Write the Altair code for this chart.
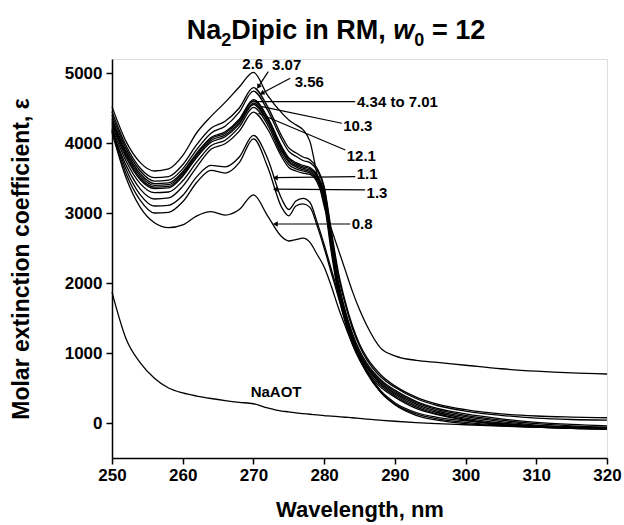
import altair as alt
import pandas as pd

# ---------------- data ----------------
wavelength = [250, 252, 254, 256, 258, 260, 262, 264, 266, 268, 270, 272, 274, 275, 276, 277,
              278, 279, 280, 281, 282, 283, 284, 285, 286, 288, 290, 293, 296, 300, 305, 310, 315, 320]

s_2_6 = [4520, 4020, 3720, 3600, 3630, 3820, 4150, 4380, 4580, 4800, 5010, 4680, 4430, 4330, 4260, 4190,
         4020, 3550, 3100, 2780, 2480, 2180, 1880, 1620, 1400, 1070, 960, 895, 865, 825, 775, 740, 715, 700]
s_3_07 = [4450, 3960, 3640, 3505, 3520, 3690, 3980, 4210, 4310, 4500, 4790, 4520, 4100, 3930, 3860, 3800,
          3760, 3640, 3380, 2760, 2160, 1730, 1390, 1130, 940, 690, 530, 370, 270, 190, 130, 100, 85, 75]
s_3_56 = [4400, 3920, 3600, 3455, 3470, 3630, 3910, 4140, 4240, 4440, 4740, 4470, 4050, 3880, 3810, 3750,
          3720, 3610, 3350, 2710, 2110, 1690, 1350, 1100, 910, 660, 510, 350, 250, 170, 110, 70, 50, 40]
s_4_34 = [4350, 3880, 3560, 3420, 3430, 3590, 3860, 4080, 4160, 4340, 4620, 4370, 3950, 3790, 3720, 3680,
          3650, 3550, 3300, 2650, 2030, 1600, 1280, 1040, 860, 620, 470, 310, 210, 130, 60, 10, -20, -40]
s_mid_b = [4320, 3850, 3530, 3395, 3405, 3570, 3840, 4060, 4140, 4320, 4600, 4350, 3930, 3770, 3700, 3660,
           3630, 3530, 3270, 2600, 1990, 1570, 1250, 1010, 830, 600, 450, 290, 190, 110, 40, -10, -40, -60]
s_mid_c = [4290, 3820, 3500, 3370, 3380, 3545, 3815, 4035, 4115, 4295, 4570, 4320, 3900, 3745, 3680, 3640,
           3610, 3510, 3250, 2570, 1960, 1540, 1220, 990, 810, 580, 430, 270, 170, 90, 20, -30, -55, -70]
s_7_01 = [4260, 3790, 3475, 3350, 3360, 3525, 3795, 4010, 4090, 4270, 4550, 4300, 3880, 3725, 3660, 3620,
          3590, 3490, 3230, 2540, 1930, 1510, 1200, 970, 790, 560, 410, 250, 150, 70, 0, -45, -70, -80]
s_10_3 = [4220, 3740, 3420, 3290, 3300, 3460, 3730, 3960, 4040, 4230, 4510, 4260, 3840, 3690, 3630, 3600,
          3570, 3470, 3200, 2500, 1890, 1470, 1160, 940, 760, 540, 390, 230, 130, 50, -20, -55, -75, -85]
s_12_1 = [4180, 3680, 3340, 3200, 3215, 3380, 3660, 3910, 3990, 4170, 4440, 4200, 3800, 3650, 3600, 3570,
          3550, 3440, 3150, 2450, 1840, 1430, 1120, 900, 730, 510, 370, 210, 120, 40, -25, -60, -75, -88]
s_1_1 = [4200, 3620, 3260, 3100, 3110, 3250, 3520, 3680, 3660, 3800, 4110, 3780, 3200, 3050, 3170, 3210,
         3150, 2870, 2550, 2200, 1850, 1500, 1200, 950, 750, 460, 290, 150, 80, 30, -10, -40, -55, -65]
s_1_3 = [4170, 3560, 3180, 3000, 3010, 3160, 3440, 3610, 3570, 3720, 4060, 3660, 3080, 2960, 3100, 3130,
         3080, 2820, 2500, 2150, 1800, 1460, 1170, 920, 720, 440, 270, 130, 60, 10, -30, -55, -70, -80]
s_0_8 = [4150, 3500, 3080, 2860, 2790, 2830, 2960, 3020, 2970, 3050, 3260, 2960, 2660, 2600, 2620, 2640,
         2580, 2410, 2230, 1960, 1650, 1380, 1130, 920, 740, 440, 260, 110, 40, -10, -40, -55, -65, -72]
s_naaot = [1870, 1200, 860, 640, 500, 430, 385, 350, 320, 295, 275, 215, 170, 160, 145, 135,
           125, 115, 105, 98, 90, 82, 75, 65, 55, 40, 25, 5, -10, -25, -45, -60, -75, -88]

series_names = ["2.6", "3.07", "3.56", "4.34", "4.34-7.01 b", "4.34-7.01 c", "7.01",
                "10.3", "12.1", "1.1", "1.3", "0.8", "NaAOT"]
series_values = [s_2_6, s_3_07, s_3_56, s_4_34, s_mid_b, s_mid_c, s_7_01,
                 s_10_3, s_12_1, s_1_1, s_1_3, s_0_8, s_naaot]

# annotation labels
label_text = ["2.6", "3.07", "3.56", "4.34 to 7.01", "10.3", "12.1", "1.1", "1.3", "0.8", "NaAOT"]
label_x = [269.9, 274.7, 277.9, 284.65, 282.7, 283.2, 284.6, 286.0, 283.9, 273.2]
label_y = [5129, 5114, 4876, 4590, 4243, 3814, 3557, 3281, 2843, 447]
label_align = ["center", "center", "center", "left", "left", "left", "left", "left", "left", "center"]

# leader lines (label side -> curve side)
lead_name = ["3.07", "3.56", "4.34 to 7.01", "10.3", "12.1", "1.1", "1.3", "0.8"]
lead_x1 = [272.1, 275.2, 284.4, 282.5, 283.0, 284.4, 285.8, 283.7]
lead_y1 = [5020, 4925, 4590, 4282, 3900, 3520, 3330, 2843]
lead_x2 = [270.7, 271.2, 269.5, 271.2, 270.7, 273.1, 273.1, 273.1]
lead_y2 = [4805, 4710, 4590, 4520, 4425, 3505, 3340, 2843]

# arrow heads
head_x = [270.7, 271.2, 273.1, 273.1, 273.1]
head_y = [4805, 4710, 3505, 3340, 2843]
head_angle = [213, 242, 270, 270, 270]

# title pieces: text, role (a leading space is kept as an explicit gap)
title_parts = ["Na", "2", "Dipic in RM,", "w", "0", "= 12"]
title_roles = ["main", "sub", "main", "ital", "sub", "main"]
title_gap_before = [0, 0, 0, 1, 0, 1]

# ---------------- tables ----------------
rows = []
for name, vals in zip(series_names, series_values):
    for w, v in zip(wavelength, vals):
        rows.append({"series": name, "wl": w, "eps": v})
spectra = pd.DataFrame(rows)

labels = pd.DataFrame({"text": label_text, "x": label_x, "y": label_y, "align": label_align})
leads = pd.DataFrame({"name": lead_name, "x": lead_x1, "y": lead_y1, "x2": lead_x2, "y2": lead_y2})
heads = pd.DataFrame({"x": head_x, "y": head_y, "angle": head_angle})

FONT = "Liberation Sans"
PLOT_LEFT, PLOT_TOP = 112, 59

xscale = alt.Scale(domain=[250, 320], nice=False, zero=False)
yscale = alt.Scale(domain=[-500, 5200], nice=False, zero=False)

x_axis = alt.Axis(values=[250, 260, 270, 280, 290, 300, 310, 320], title="Wavelength, nm",
                  grid=False, domain=True, domainColor="black", domainWidth=1.5, labelFlush=False,
                  tickColor="black", tickSize=6, tickWidth=1.5, format="d",
                  labelFont=FONT, labelFontWeight="bold", labelFontSize=17, labelColor="black",
                  labelPadding=3, titleFont=FONT, titleFontWeight="bold", titleFontSize=22,
                  titleColor="black", titlePadding=16)
y_axis = alt.Axis(values=[0, 1000, 2000, 3000, 4000, 5000], title="Molar extinction coefficient, ε",
                  grid=False, domain=True, domainColor="black", domainWidth=1.5, labelFlush=False,
                  tickColor="black", tickSize=6, tickWidth=1.5, format="d",
                  labelFont=FONT, labelFontWeight="bold", labelFontSize=17, labelColor="black",
                  labelPadding=4, titleFont=FONT, titleFontWeight="bold", titleFontSize=23,
                  titleColor="black", titlePadding=31)

lines = alt.Chart(spectra).mark_line(color="black", strokeWidth=1.3, interpolate="monotone").encode(
    x=alt.X("wl:Q", scale=xscale, axis=x_axis),
    y=alt.Y("eps:Q", scale=yscale, axis=y_axis),
    detail="series:N",
)

lead_layer = alt.Chart(leads).mark_rule(color="black", strokeWidth=1.2).encode(
    x=alt.X("x:Q", scale=xscale), y=alt.Y("y:Q", scale=yscale),
    x2="x2:Q", y2="y2:Q",
)

head_layer = alt.Chart(heads).mark_point(shape="triangle-up", filled=True, color="black",
                                         size=30, opacity=1).encode(
    x=alt.X("x:Q", scale=xscale), y=alt.Y("y:Q", scale=yscale),
    angle=alt.Angle("angle:Q", scale=None),
)

text_center = alt.Chart(labels[labels["align"] == "center"]).mark_text(
    align="center", baseline="middle", font=FONT, fontWeight="bold", fontSize=15, color="black"
).encode(x=alt.X("x:Q", scale=xscale), y=alt.Y("y:Q", scale=yscale), text="text:N")

text_left = alt.Chart(labels[labels["align"] == "left"]).mark_text(
    align="left", baseline="middle", font=FONT, fontWeight="bold", fontSize=15, color="black"
).encode(x=alt.X("x:Q", scale=xscale), y=alt.Y("y:Q", scale=yscale), text="text:N")

# ---- title built from pieces (subscripts, italic w) ----
ADV = {'N': 722, 'a': 556, 'D': 722, 'i': 278, 'p': 611, 'c': 556, ' ': 278,
       'n': 611, 'R': 722, 'M': 833, ',': 278, 'w': 778, '=': 584, '1': 556, '2': 556, '0': 556}
MAIN_FS, SUB_FS = 27, 18
TITLE_CENTER, TITLE_BASE, SUB_DROP = 336, 39, 7
SPACE = ADV[' '] / 1000 * MAIN_FS
sizes = [SUB_FS if r == "sub" else MAIN_FS for r in title_roles]
widths = [sum(ADV[c] for c in t) / 1000 * fs for t, fs in zip(title_parts, sizes)]
total = sum(widths) + SPACE * sum(title_gap_before)
cursor = TITLE_CENTER - total / 2
title_layers = []
for t, role, fs, wdt, gap in zip(title_parts, title_roles, sizes, widths, title_gap_before):
    cursor += gap * SPACE
    base = TITLE_BASE + (SUB_DROP if role == "sub" else 0)
    title_layers.append(
        alt.Chart(pd.DataFrame({"t": [t]})).mark_text(
            align="left", baseline="alphabetic", font=FONT, fontWeight="bold",
            fontStyle="italic" if role == "ital" else "normal", fontSize=fs, color="black",
        ).encode(text="t:N", x=alt.value(cursor - PLOT_LEFT), y=alt.value(base - PLOT_TOP))
    )
    cursor += wdt

chart = alt.layer(lines, lead_layer, head_layer, text_center, text_left, *title_layers).properties(
    width=495, height=399,
    autosize=alt.AutoSizeParams(type="none"),
    padding={"left": PLOT_LEFT, "top": PLOT_TOP, "right": 17, "bottom": 67},
).configure_view(stroke=None).configure(background="white")

chart.save("out.html", embed_options={"renderer": "svg", "actions": False})
